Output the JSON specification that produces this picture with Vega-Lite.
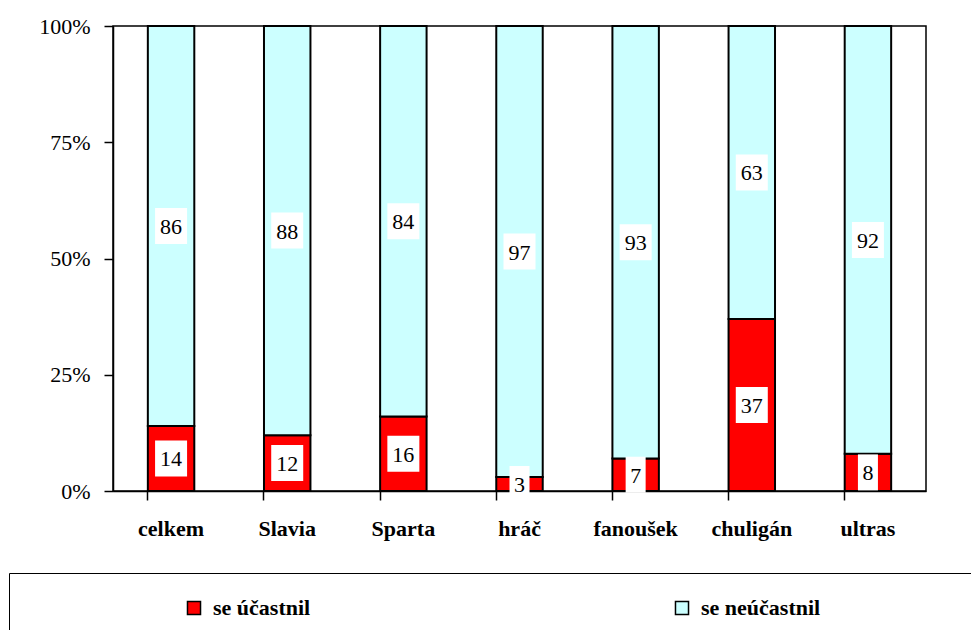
{
  "$schema": "https://vega.github.io/schema/vega-lite/v6.json",
  "autosize": {"type": "none"},
  "width": 813,
  "height": 465,
  "padding": {"left": 113, "top": 26, "right": 45, "bottom": 139},
  "background": "white",
  "config": {
    "font": "Liberation Serif",
    "view": {"stroke": "black", "strokeWidth": 1.5},
    "axis": {"domainColor": "black", "domainWidth": 1.5, "tickColor": "black", "tickWidth": 1.5, "tickSize": 9, "grid": false, "labelColor": "black", "labelFont": "Liberation Serif", "labelFontSize": 22, "title": null}
  },
  "data": {
    "values": [
      {"cat": "celkem", "series": "se účastnil", "value": 14},
      {"cat": "celkem", "series": "se neúčastnil", "value": 86},
      {"cat": "Slavia", "series": "se účastnil", "value": 12},
      {"cat": "Slavia", "series": "se neúčastnil", "value": 88},
      {"cat": "Sparta", "series": "se účastnil", "value": 16},
      {"cat": "Sparta", "series": "se neúčastnil", "value": 84},
      {"cat": "hráč", "series": "se účastnil", "value": 3},
      {"cat": "hráč", "series": "se neúčastnil", "value": 97},
      {"cat": "fanoušek", "series": "se účastnil", "value": 7},
      {"cat": "fanoušek", "series": "se neúčastnil", "value": 93},
      {"cat": "chuligán", "series": "se účastnil", "value": 37},
      {"cat": "chuligán", "series": "se neúčastnil", "value": 63},
      {"cat": "ultras", "series": "se účastnil", "value": 8},
      {"cat": "ultras", "series": "se neúčastnil", "value": 92}
    ]
  },
  "transform": [
    {"calculate": "datum.series === 'se účastnil' ? 0 : 1", "as": "ord"},
    {"stack": "value", "groupby": ["cat"], "sort": [{"field": "ord", "order": "ascending"}], "offset": "normalize", "as": ["y0", "y1"]},
    {"calculate": "(datum.y0 + datum.y1) / 2", "as": "mid"}
  ],
  "encoding": {
    "x": {
      "field": "cat", "type": "nominal", "sort": null,
      "scale": {"paddingInner": 0.6, "paddingOuter": 0.3},
      "axis": {"labelAngle": 0, "labelFontWeight": "bold", "labelPadding": 18, "bandPosition": 0, "labelFontSize": 22}
    }
  },
  "layer": [
    {
      "mark": {"type": "bar", "stroke": "black", "strokeWidth": 2},
      "encoding": {
        "y": {"field": "y0", "type": "quantitative", "scale": {"domain": [0, 1], "nice": false}, "axis": {"values": [0, 0.25, 0.5, 0.75, 1], "format": "%", "labelPadding": 14}},
        "y2": {"field": "y1"},
        "color": {
          "field": "series", "type": "nominal",
          "scale": {"domain": ["se účastnil", "se neúčastnil", " "], "range": ["#FF0000", "#CCFFFF", "#FFFFFF"]},
          "legend": {
            "title": null, "orient": "none", "legendX": -104, "legendY": 547,
            "direction": "horizontal", "columns": 3, "columnPadding": 210,
            "symbolType": "square", "symbolSize": 170, "symbolStrokeColor": "black", "symbolStrokeWidth": 1.5,
            "symbolOffset": 150,
            "labelFont": "Liberation Serif", "labelFontSize": 22, "labelFontWeight": "bold", "labelColor": "black", "labelOffset": 8, "labelLimit": 300,
            "strokeColor": "black", "padding": 24, "fillColor": "white"
          }
        }
      }
    },
    {
      "mark": {"type": "tick", "color": "white", "opacity": 1, "thickness": 36, "orient": "horizontal"},
      "encoding": {
        "y": {"field": "mid", "type": "quantitative"},
        "size": {"field": "value", "type": "quantitative", "scale": {"type": "threshold", "domain": [10], "range": [20, 32]}, "legend": null}
      }
    },
    {
      "mark": {"type": "text", "fontSize": 22, "color": "black", "font": "Liberation Serif", "baseline": "middle", "dy": 1},
      "encoding": {
        "y": {"field": "mid", "type": "quantitative"},
        "text": {"field": "value", "type": "quantitative"}
      }
    }
  ]
}
